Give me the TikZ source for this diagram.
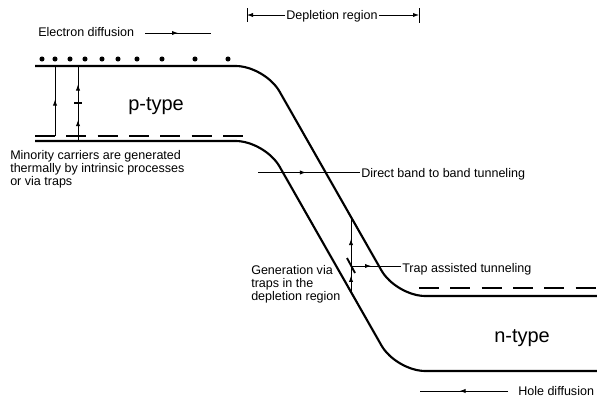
\documentclass[tikz,border=0pt]{standalone}
\usepackage{fontspec}
\setmainfont{Liberation Sans}
\usetikzlibrary{arrows.meta,decorations.markings}

\begin{document}
\begin{tikzpicture}[x=0.75pt,y=0.75pt,yscale=-1,
  band/.style={line width=1.6pt,rounded corners=22pt},
  level/.style={line width=1.5pt,dash pattern=on 15pt off 8.5pt},
  lead/.style={line width=0.6pt},
  trapmark/.style={line width=1.4pt},
  midarrow/.style={postaction={decorate},decoration={markings,mark=at position #1 with {\arrow{Latex[length=4.5pt,width=3.2pt]}}}},
  lbl/.style={inner sep=0.75pt,anchor=base west,font=\fontsize{9.4}{9.75}\selectfont},
  big/.style={inner sep=0.75pt,anchor=base west,font=\fontsize{15}{18}\selectfont}]
\useasboundingbox (0,0) rectangle (597,404);

%Shape: Conduction and valence band
\draw [band] (35,66) -- (265,66) -- (396,296) -- (597,296);
\draw [band] (35,141) -- (265,141) -- (396,371) -- (597,371);
%Dashed levels
\draw [level] (35,136) -- (245,136);
\draw [level] (419,288) -- (597,288);
%Electrons
\foreach \ex in {42,55,70,85,102,118,137,162,195,228}
  \fill (\ex,59) circle [radius=1.9pt];

%Points on the bands
\coordinate (cbA) at (55,66);
\coordinate (flA) at (55,136);
\coordinate (cbB) at (78,66);
\coordinate (trB) at (78,103);
\coordinate (vbB) at (78,141);
\coordinate (cbT) at (351,217);
\coordinate (trT) at (351,266);
\coordinate (vbT) at (351,292);

%Straight Lines: generation in p-type
\draw [lead, midarrow=0.52] (flA) -- (cbA);
\draw [lead, midarrow=0.55] (vbB) -- (trB);
\draw [lead, midarrow=0.5] (trB) -- (cbB);
\draw [trapmark] (74,103) -- (82,103);
%Straight Lines: trap assisted tunneling
\draw [lead, midarrow=0.62] (vbT) -- (trT);
\draw [lead, midarrow=0.55] (trT) -- (cbT);
\draw [trapmark] (347,258) -- (355,273);

% Text Node
\node [lbl] (elec) at (37,36) {Electron diffusion};
\coordinate (elecA) at (145,33);
\coordinate (elecB) at (211,33);
\draw [lead, midarrow=0.5] (elecA) -- (elecB);
% Text Node
\node [lbl] (depl) at (285,19) {Depletion region};
\coordinate (deplL) at (247,15);
\coordinate (deplR) at (419,15);
\draw [lead, -{Latex[length=4.5pt,width=3.2pt]}] (deplL -| depl.west) -- (deplL);
\draw [lead, -{Latex[length=4.5pt,width=3.2pt]}] (deplR -| depl.east) -- (deplR);
\draw [lead] (247,8) -- (247,22);
\draw [lead] (419,8) -- (419,23);
% Text Node
\node [big] (ptype) at (127,110) {p-type};
% Text Node
\node [lbl, align=left, anchor=north west] (minor) at (9,149) {Minority carriers are generated\\thermally by intrinsic processes\\or via traps};
% Text Node
\node [lbl] (direct) at (360,177) {Direct band to band tunneling};
\coordinate (directA) at (258,172.5);
\draw [lead, midarrow=0.47] (directA) -- (directA -| direct.west);
% Text Node
\node [lbl] (tat) at (401,272) {Trap assisted tunneling};
\draw [lead, midarrow=0.4] (trT) -- (trT -| tat.west);
% Text Node
\node [lbl, align=left, anchor=north west] (gen) at (250,264) {Generation via\\traps in the\\depletion region};
% Text Node
\node [big] (ntype) at (493,342) {n-type};
% Text Node
\node [lbl] (hole) at (517,395) {Hole diffusion};
\coordinate (holeA) at (508,391);
\coordinate (holeB) at (420,391);
\draw [lead, midarrow=0.55] (holeA) -- (holeB);

\end{tikzpicture}
\end{document}
